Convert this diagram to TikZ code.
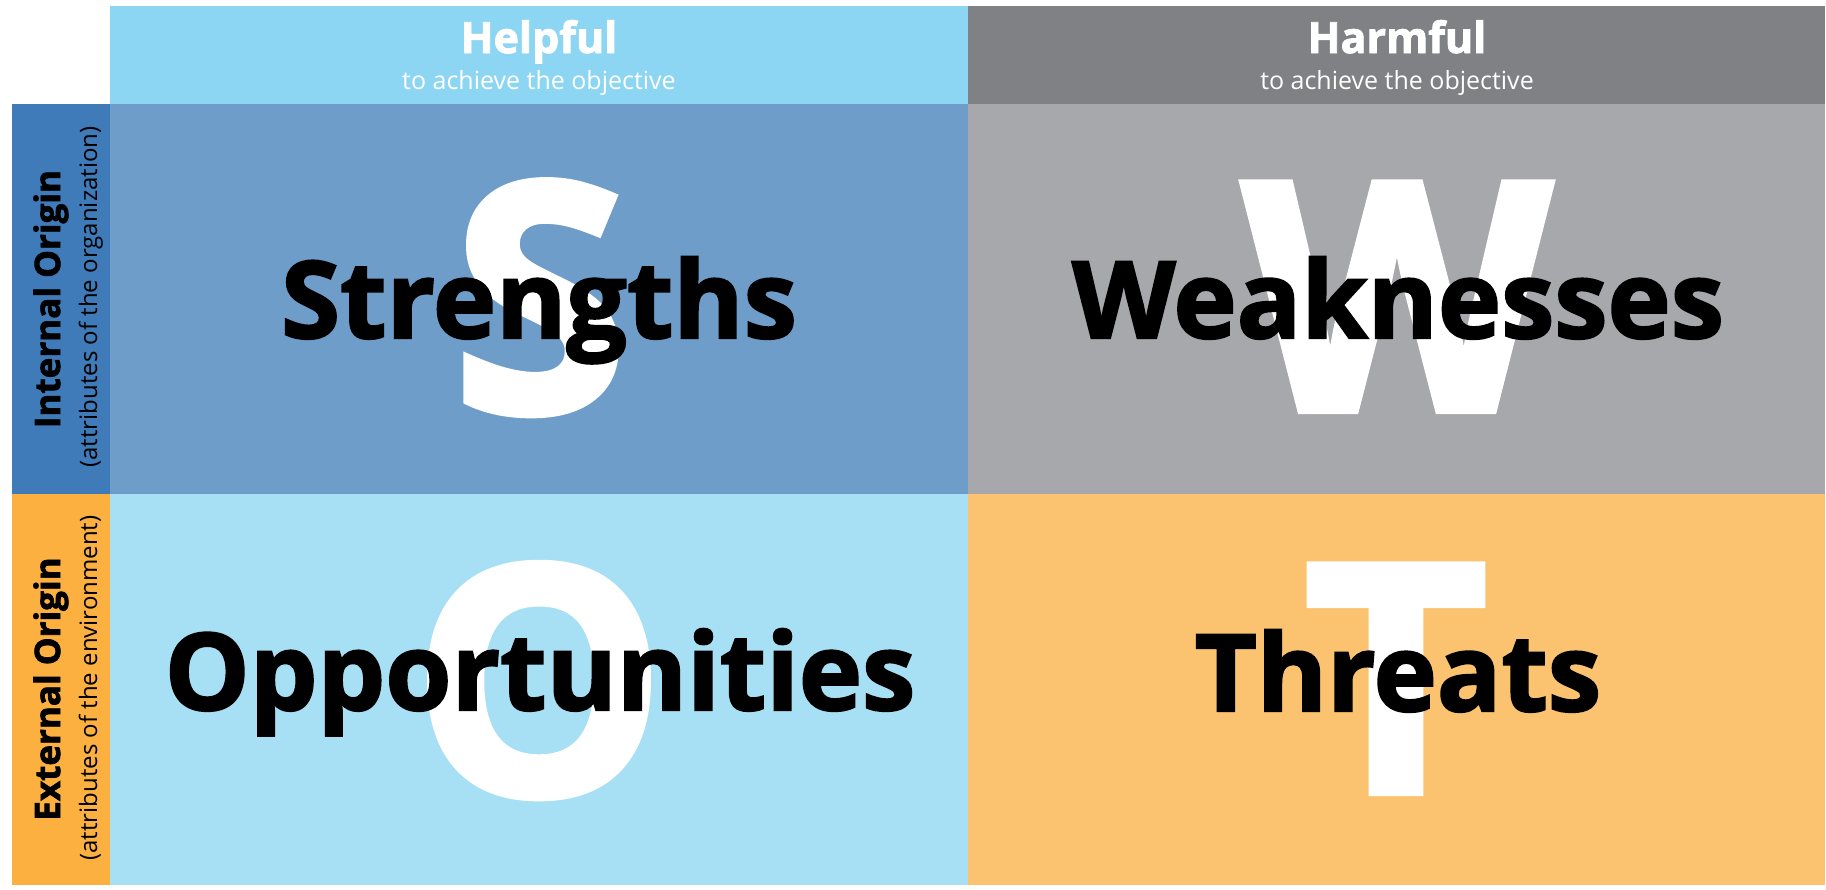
\documentclass[tikz,border=0pt]{standalone}
\usepackage{fontspec}
\setmainfont{Open Sans}
\newfontfamily\heavyfont[BoldFeatures={FakeBold=2}]{Open Sans}
\definecolor{helphead}{HTML}{8DD6F3}
\definecolor{harmhead}{HTML}{808184}
\definecolor{intcol}{HTML}{3F7AB9}
\definecolor{extcol}{HTML}{FBB040}
\definecolor{scell}{HTML}{6F9DC9}
\definecolor{wcell}{HTML}{A7A8AC}
\definecolor{ocell}{HTML}{A7DFF4}
\definecolor{tcell}{HTML}{FBC370}
\tikzset{
  big/.style={anchor=base, inner sep=0pt, text=white, font=\heavyfont\bfseries\fontsize{320}{320}\selectfont},
  word/.style={anchor=base, inner sep=0pt, text=black, font=\heavyfont\bfseries\fontsize{107}{110}\selectfont},
  headt/.style={anchor=base, inner sep=0pt, text=white, font=\heavyfont\bfseries\fontsize{43}{45}\selectfont},
  heads/.style={anchor=base, inner sep=0pt, text=white, font=\fontsize{25}{27}\selectfont},
  sidet/.style={anchor=base, inner sep=0pt, rotate=90, text=black, font=\heavyfont\bfseries\fontsize{35}{37}\selectfont},
  sides/.style={anchor=base, inner sep=0pt, rotate=90, text=black, font=\fontsize{24}{26}\selectfont},
}
\begin{document}
\begin{tikzpicture}[x=1pt,y=-1pt]
\useasboundingbox (0,0) rectangle (1826,889);
% headers
\fill[helphead] (110,6) rectangle (968,104);
\fill[harmhead] (968,6) rectangle (1825,104);
% side column
\fill[intcol] (12,104) rectangle (110,494);
\fill[extcol] (12,494) rectangle (110,885);
% cells
\fill[scell] (110,104) rectangle (968,494);
\fill[wcell] (968,104) rectangle (1825,494);
\fill[ocell] (110,494) rectangle (968,885);
\fill[tcell] (968,494) rectangle (1825,885);
% header texts
\node[headt] (help) at (539,53) {Helpful};
\node[heads] (helps) at (539,89) {to achieve the objective};
\node[headt] (harm) at (1397,53) {Harmful};
\node[heads] (harms) at (1397,89) {to achieve the objective};
% side texts
\node[sidet] (int) at (60,299) {Internal Origin};
\node[sides] (ints) at (97,297) {(attributes of the organization)};
\node[sidet] (ext) at (60,689) {External Origin};
\node[sides] (exts) at (97,688) {(attributes of the environment)};
% big letters
\node[big] (bS) at (540,412) {S};
\node[big] (bW) at (1397,411) {W};
\node[big] (bO) at (539,795) {O};
\node[big] (bT) at (1396,793) {T};
% words
\node[word] (ws) at (539,338) {Strengths};
\node[word] (ww) at (1398,338) {Weaknesses};
\node[word] (wo) at (540,710) {Opportunities};
\node[word] (wt) at (1398,711) {Threats};
\end{tikzpicture}
\end{document}
